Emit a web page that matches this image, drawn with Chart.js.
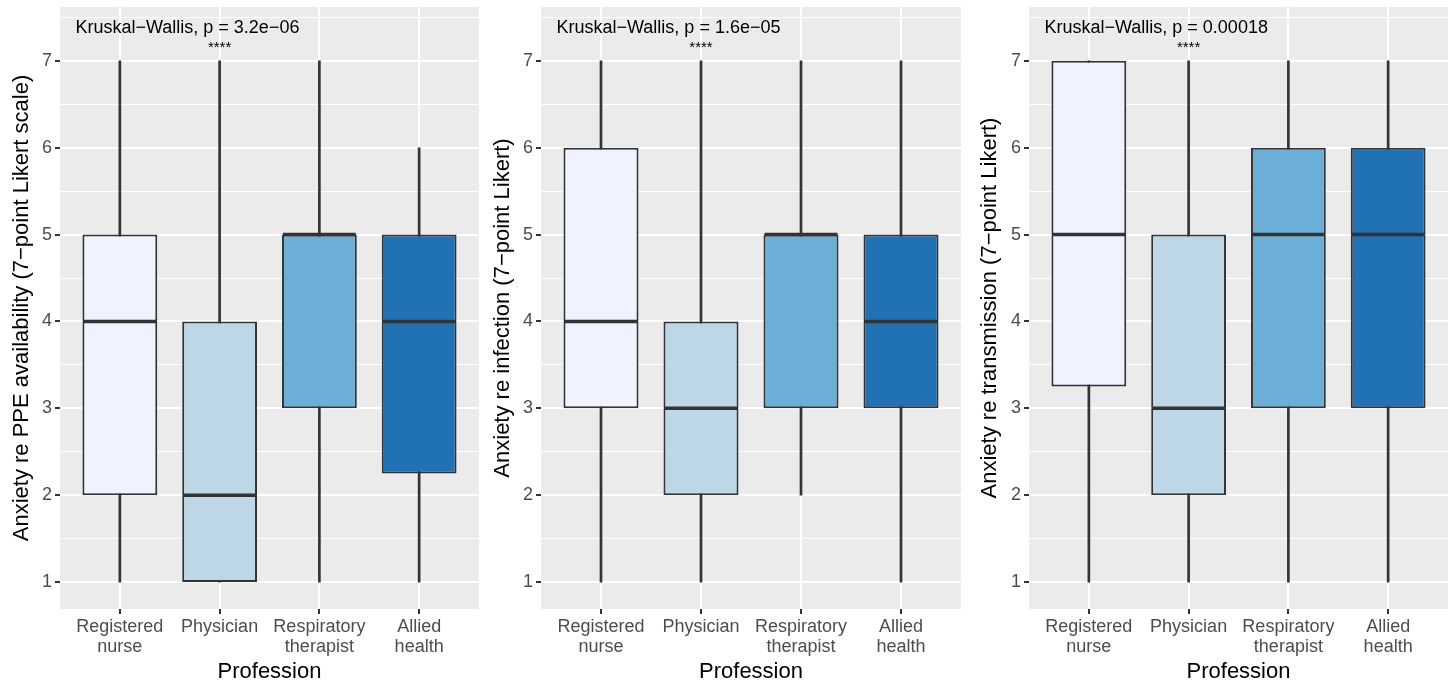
<!DOCTYPE html>
<html>
<head>
<meta charset="utf-8">
<script src="https://cdn.jsdelivr.net/npm/chart.js@4.4.0/dist/chart.umd.min.js"></script>
<style>
  body { margin: 0; background: #fff; }
  .panel { position: absolute; top: 0; }
</style>
</head>
<body>
<div class="panel" style="left:0px"><canvas id="c1" width="483" height="683"></canvas></div>
<div class="panel" style="left:483px"><canvas id="c2" width="482" height="683"></canvas></div>
<div class="panel" style="left:965px"><canvas id="c3" width="486" height="683"></canvas></div>
<script>
// categories and tick labels
const professions = [['Registered', 'nurse'], 'Physician', ['Respiratory', 'therapist'], ['Allied', 'health']];
const yTicks = [1, 1.5, 2, 2.5, 3, 3.5, 4, 4.5, 5, 5.5, 6, 6.5, 7, 7.5];
const fills = ['#EFF3FF', '#BDD7E7', '#6BAED6', '#2171B5'];

// panel 1: PPE availability
const ppeLow = [1, 1, 1, 1];
const ppeQ1 = [2, 1, 3, 2.25];
const ppeMed = [4, 2, 5, 4];
const ppeQ3 = [5, 4, 5, 5];
const ppeHigh = [7, 7, 7, 6];

// panel 2: infection
const infLow = [1, 1, 2, 1];
const infQ1 = [3, 2, 3, 3];
const infMed = [4, 3, 5, 4];
const infQ3 = [6, 4, 5, 5];
const infHigh = [7, 7, 7, 7];

// panel 3: transmission
const trLow = [1, 1, 1, 1];
const trQ1 = [3.25, 2, 3, 3];
const trMed = [5, 3, 5, 5];
const trQ3 = [7, 5, 6, 6];
const trHigh = [7, 7, 7, 7];

const FONT = "'Liberation Sans', Arial, Helvetica, sans-serif";

// grey panel background
const bgPlugin = {
  id: 'bg',
  beforeDraw(chart) {
    const a = chart.chartArea, ctx = chart.ctx;
    ctx.save();
    ctx.fillStyle = '#EBEBEB';
    ctx.fillRect(a.left, a.top, a.right - a.left, a.bottom - a.top);
    ctx.restore();
  }
};

// medians + test labels
const boxExtras = {
  id: 'boxExtras',
  afterDatasetsDraw(chart, args, opts) {
    const ctx = chart.ctx, x = chart.scales.x, y = chart.scales.y;
    const meta = chart.getDatasetMeta(0);
    ctx.save();
    ctx.strokeStyle = '#333333';
    ctx.lineWidth = 3.5;
    opts.medians.forEach((m, i) => {
      const bar = meta.data[i];
      const cx = x.getPixelForValue(i + 1), py = y.getPixelForValue(m);
      ctx.beginPath();
      ctx.moveTo(cx - bar.width / 2 + 1, py);
      ctx.lineTo(cx + bar.width / 2 - 1, py);
      ctx.stroke();
    });
    ctx.fillStyle = '#000';
    ctx.textBaseline = 'middle';
    ctx.textAlign = 'left';
    ctx.font = '18px ' + FONT;
    ctx.fillText(opts.label, x.getPixelForValue(0.555), y.getPixelForValue(7.38));
    ctx.textAlign = 'center';
    ctx.font = '15px ' + FONT;
    ctx.fillText('****', x.getPixelForValue(2), y.getPixelForValue(7.15));
    ctx.restore();
  }
};

function makePanel(id, cfg) {
  const boxes = professions.map((p, i) => ({ x: i + 1, y: [cfg.q1[i], cfg.q3[i]] }));
  const whiskers = professions.map((p, i) => ({ x: i + 1, y: [cfg.low[i], cfg.high[i]] }));
  return new Chart(document.getElementById(id), {
    type: 'bar',
    data: {
      datasets: [
        {
          data: boxes,
          backgroundColor: fills,
          borderColor: '#333333',
          borderWidth: 2,
          borderSkipped: false,
          grouped: false,
          categoryPercentage: 1,
          barPercentage: 0.75
        },
        {
          data: whiskers,
          backgroundColor: '#333333',
          borderWidth: 0,
          grouped: false,
          barThickness: 2
        }
      ]
    },
    options: {
      responsive: false,
      animation: false,
      layout: { padding: { top: 7, right: cfg.padRight, left: 0, bottom: 0 } },
      plugins: {
        legend: { display: false },
        tooltip: { enabled: false },
        boxExtras: { medians: cfg.med, label: cfg.label }
      },
      scales: {
        x: {
          type: 'linear',
          min: 0.4,
          max: 4.6,
          offset: false,
          afterBuildTicks: s => { s.ticks = [1, 2, 3, 4].map(v => ({ value: v })); },
          afterFit: s => { s.height = 74; s.paddingLeft = 0; s.paddingRight = 0; },
          border: { display: false },
          grid: { offset: false, color: '#FFFFFF', lineWidth: 2, tickColor: '#333333', tickLength: 5 },
          ticks: {
            callback: v => professions[v - 1],
            color: '#4D4D4D',
            font: { family: FONT, size: 18, lineHeight: 1.1 },
            padding: 3,
            maxRotation: 0,
            autoSkip: false
          },
          title: {
            display: true,
            text: 'Profession',
            color: '#000',
            font: { family: FONT, size: 22, lineHeight: 1 },
            padding: { top: 0, bottom: 0 }
          }
        },
        y: {
          min: 0.69,
          max: 7.62,
          afterBuildTicks: s => { s.ticks = yTicks.map(v => ({ value: v })); },
          afterFit: s => { s.width = cfg.yWidth; s.paddingTop = 0; s.paddingBottom = 0; },
          border: { display: false },
          grid: {
            color: '#FFFFFF',
            lineWidth: c => Number.isInteger(c.tick.value) ? 2 : 1,
            tickColor: c => Number.isInteger(c.tick.value) ? '#333333' : 'rgba(0,0,0,0)',
            tickLength: 5
          },
          ticks: {
            callback: v => Number.isInteger(v) ? String(v) : '',
            color: '#4D4D4D',
            font: { family: FONT, size: 18 },
            padding: 3,
            autoSkip: false
          },
          title: {
            display: true,
            text: cfg.yTitle,
            color: '#000',
            font: { family: FONT, size: 22, lineHeight: 1 },
            padding: { top: cfg.titlePad, bottom: 0 }
          }
        }
      }
    },
    plugins: [bgPlugin, boxExtras]
  });
}

makePanel('c1', {
  low: ppeLow, q1: ppeQ1, med: ppeMed, q3: ppeQ3, high: ppeHigh,
  label: 'Kruskal\u2212Wallis, p = 3.2e\u221206',
  yTitle: 'Anxiety re PPE availability (7\u2212point Likert scale)',
  yWidth: 60, padRight: 4, titlePad: 11
});
makePanel('c2', {
  low: infLow, q1: infQ1, med: infMed, q3: infQ3, high: infHigh,
  label: 'Kruskal\u2212Wallis, p = 1.6e\u221205',
  yTitle: 'Anxiety re infection (7\u2212point Likert)',
  yWidth: 58, padRight: 4, titlePad: 9
});
makePanel('c3', {
  low: trLow, q1: trQ1, med: trMed, q3: trQ3, high: trHigh,
  label: 'Kruskal\u2212Wallis, p = 0.00018',
  yTitle: 'Anxiety re transmission (7\u2212point Likert)',
  yWidth: 64, padRight: 3, titlePad: 14
});
</script>
</body>
</html>
